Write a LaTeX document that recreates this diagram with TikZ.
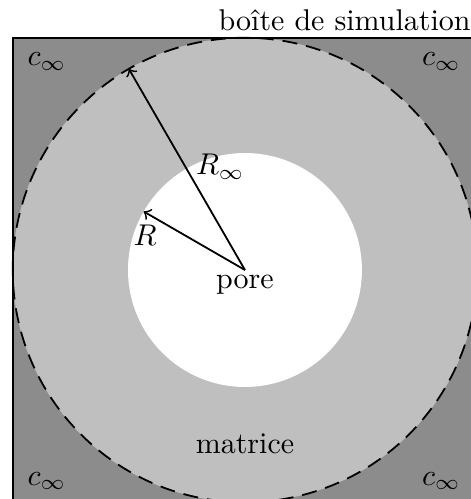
\documentclass[tikz,border=0pt]{standalone}
\usepackage{tikz}
\definecolor{exterieur}{gray}{0.55}
\definecolor{matricegris}{gray}{0.75}
\tikzset{
  rayon/.style={->,line width=0.6pt},
  bord/.style={dash pattern=on 5pt off 3pt,line width=0.6pt},
}
\begin{document}
\begin{tikzpicture}[x=1cm,y=1cm]
\useasboundingbox (-2.869,-2.682) rectangle (2.646,3.162);

\fill[exterieur] (-2.72,-2.72) rectangle (2.72,2.72);
\fill[matricegris] (0,0) circle (2.72);
\fill[white] (0,0) circle (1.37);
\draw[bord] (0,0) circle (2.72);
\draw[line width=0.8pt] (-2.72,-2.72) rectangle (2.72,2.72);

\coordinate (centre) at (0,0);
\coordinate (bordR) at (150:1.37);
\coordinate (bordRinf) at (120:2.72);
\coordinate (coinNE) at (2.72,2.72);

\draw[rayon] (centre) -- (bordR);
\draw[rayon] (centre) -- (bordRinf);

\node (lblR) at (-1.17,0.41) {$R$};
\node (lblRinf) at (-0.29,1.21) {$R_\infty$};
\node (pore) at (0,-0.17) {pore};
\node (matrice) at (0,-2.04) {matrice};
\node (titre) [anchor=south east,inner sep=2pt] at (coinNE) {boîte de simulation};

\node (cNO) at (-2.32,2.44) {$c_\infty$};
\node (cNE) at (2.30,2.44) {$c_\infty$};
\node (cSO) at (-2.32,-2.47) {$c_\infty$};
\node (cSE) at (2.30,-2.47) {$c_\infty$};
\end{tikzpicture}
\end{document}
